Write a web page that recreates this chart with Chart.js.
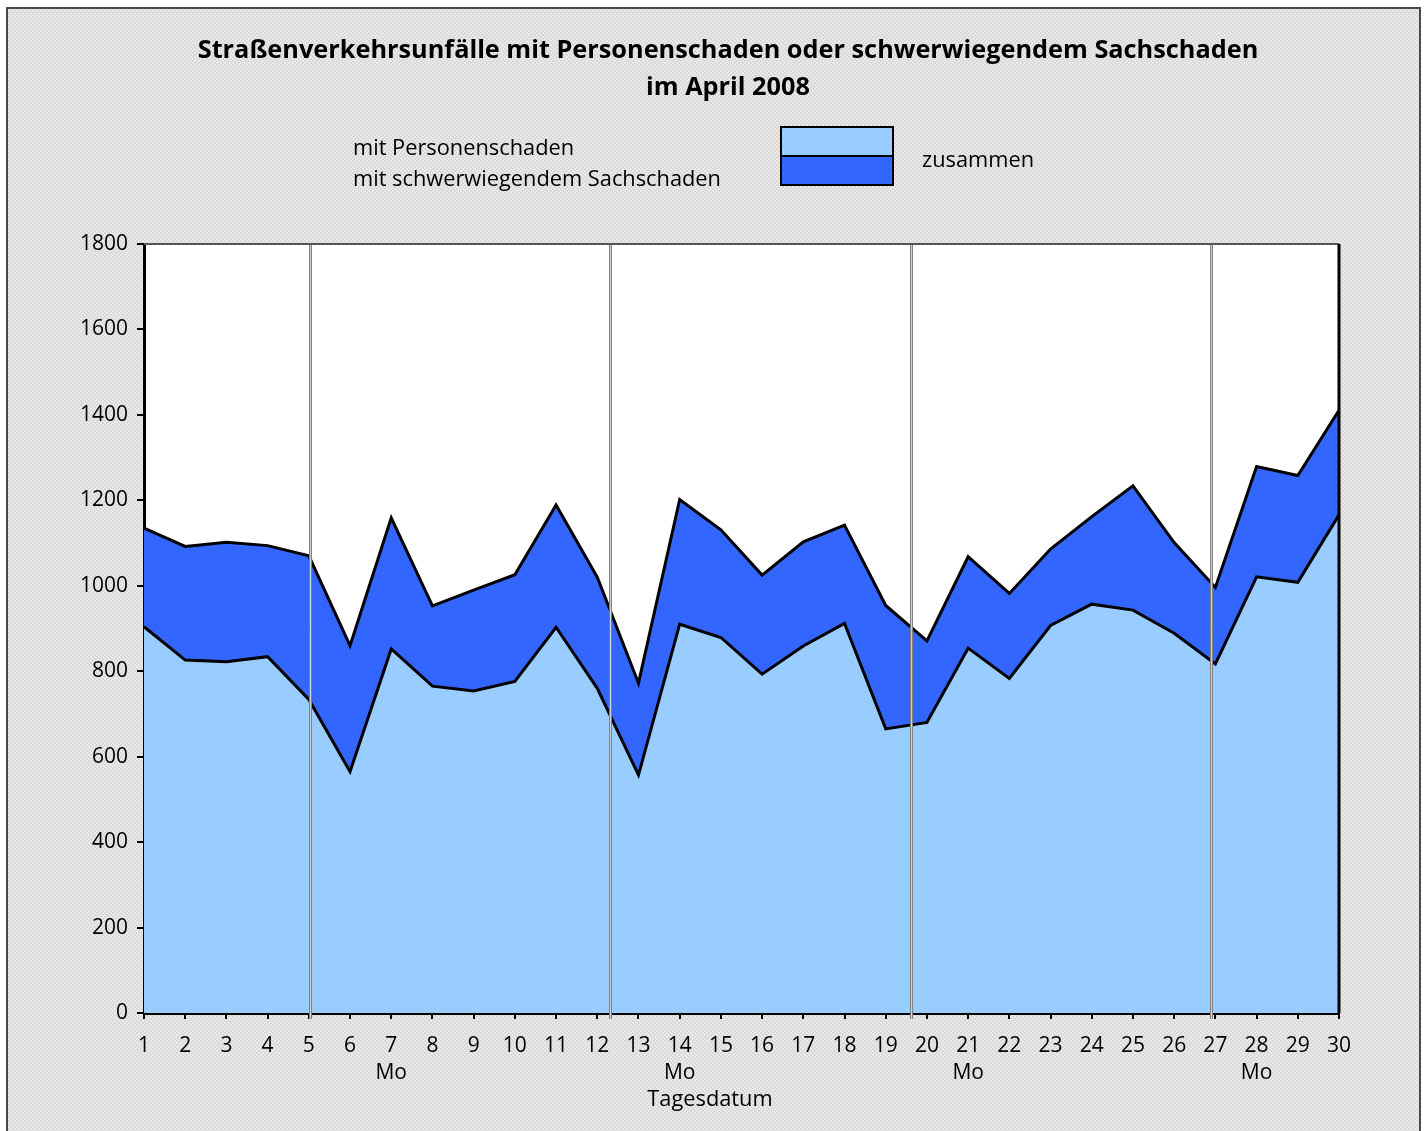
<!DOCTYPE html>
<html><head><meta charset="utf-8">
<script src="https://cdn.jsdelivr.net/npm/chart.js@4/dist/chart.umd.min.js"></script>
<style>html,body{margin:0;padding:0;background:#fff;overflow:hidden}#wrap{position:relative;width:1427px;height:1131px}</style>
</head><body><div id="wrap"><canvas id="c" width="1427" height="1131"></canvas></div>
<script>
const days = ['1','2','3','4','5','6','7','8','9','10','11','12','13','14','15','16','17','18','19','20','21','22','23','24','25','26','27','28','29','30'];
const mondays = ['7','14','21','28'];
const personenschaden = [904,826,822,834,734,565,852,765,754,776,903,760,557,910,879,793,859,912,665,680,854,783,907,957,943,889,817,1021,1008,1166];
const zusammen = [1135,1092,1102,1094,1070,860,1159,953,990,1026,1189,1020,772,1202,1131,1025,1103,1142,954,871,1068,982,1086,1162,1234,1101,996,1279,1258,1411];
const weekSeparators = [5.03, 12.31, 19.61, 26.89];
const titleLines = ['Straßenverkehrsunfälle mit Personenschaden oder schwerwiegendem Sachschaden','im April 2008'];
const legendLabels = ['mit Personenschaden','mit schwerwiegendem Sachschaden'];
const legendTotal = 'zusammen';
const xTitle = 'Tagesdatum';
const FONT = "'Open Sans', 'Noto Sans', sans-serif";
const LIGHT = '#99CCFF', DARK = '#3366FF';

function makePattern(ctx){
  const t = document.createElement('canvas'); t.width = 4; t.height = 4;
  const g = t.getContext('2d');
  g.fillStyle = '#e9e9e9'; g.fillRect(0,0,4,4);
  g.fillStyle = '#d9d9d9'; g.fillRect(0,0,2,2); g.fillRect(2,2,2,2);
  return ctx.createPattern(t,'repeat');
}

const deco = {
  id:'deco',
  beforeDraw(chart){
    const {ctx, chartArea:a} = chart;
    ctx.save();
    ctx.fillStyle = '#fff'; ctx.fillRect(0,0,chart.width,chart.height);
    ctx.fillStyle = makePattern(ctx); ctx.fillRect(8,9,1412,1130);
    ctx.strokeStyle = '#4a4a4a'; ctx.lineWidth = 2; ctx.strokeRect(7,8,1413,1140);
    ctx.fillStyle = '#fff'; ctx.fillRect(a.left,a.top,a.right-a.left,a.bottom-a.top);
    // title
    ctx.fillStyle = '#000'; ctx.textAlign = 'center'; ctx.textBaseline = 'middle';
    ctx.font = "bold 25.3px " + FONT;
    ctx.fillText(titleLines[0], 728, 51);
    ctx.fillText(titleLines[1], 728, 88);
    // legend
    ctx.font = "21.8px " + FONT; ctx.textAlign = 'left';
    ctx.fillText(legendLabels[0], 353, 149);
    ctx.fillText(legendLabels[1], 353, 180);
    ctx.fillText(legendTotal, 922, 161);
    // x axis title
    ctx.textAlign = 'center';
    ctx.fillText(xTitle, 710, 1100);
    ctx.fillStyle = LIGHT; ctx.fillRect(781,127,112,29);
    ctx.fillStyle = DARK; ctx.fillRect(781,156,112,29);
    ctx.strokeStyle = '#000'; ctx.lineWidth = 2;
    ctx.strokeRect(781,127,112,58);
    ctx.beginPath(); ctx.moveTo(781,156); ctx.lineTo(893,156); ctx.stroke();
    ctx.restore();
  },
  afterDatasetsDraw(chart){
    const {ctx, chartArea:a, scales:{x}} = chart;
    ctx.save();
    weekSeparators.forEach(d => {
      const px = Math.round(x.getPixelForValue(d - 1)) + 0.5;
      ctx.strokeStyle = '#808080'; ctx.lineWidth = 3;
      ctx.beginPath(); ctx.moveTo(px, a.top); ctx.lineTo(px, a.bottom + 6); ctx.stroke();
      ctx.strokeStyle = '#d0d0d0'; ctx.lineWidth = 1;
      ctx.beginPath(); ctx.moveTo(px, a.top); ctx.lineTo(px, a.bottom + 6); ctx.stroke();
    });
    ctx.strokeStyle = '#555'; ctx.lineWidth = 2;
    ctx.beginPath(); ctx.moveTo(a.left, a.top); ctx.lineTo(a.right, a.top); ctx.stroke();
    ctx.strokeStyle = '#000'; ctx.lineWidth = 3;
    ctx.beginPath(); ctx.moveTo(a.right, a.top); ctx.lineTo(a.right, a.bottom); ctx.stroke();
    ctx.restore();
  }
};

new Chart(document.getElementById('c'), {
  type:'line',
  data:{
    labels: days,
    datasets:[
      {label:legendLabels[0], data:personenschaden, fill:'origin', backgroundColor:LIGHT, borderColor:'#000', borderWidth:3, pointRadius:0, tension:0},
      {label:legendLabels[1], data:zusammen, fill:'-1', backgroundColor:DARK, borderColor:'#000', borderWidth:3, pointRadius:0, tension:0}
    ]
  },
  options:{
    responsive:false, devicePixelRatio:1, animation:false,
    layout:{padding:{left:0,right:88,top:244,bottom:0}},
    plugins:{legend:{display:false}, tooltip:{enabled:false}, title:{display:false}},
    elements:{line:{borderJoinStyle:'miter'}},
    scales:{
      x:{
        offset:false, z:1,
        grid:{drawOnChartArea:false, drawTicks:true, tickLength:6, color:'#000', lineWidth:2},
        border:{display:true, color:'#000', width:3},
        ticks:{color:'#000', font:{family:FONT, size:21, lineHeight:1.3}, maxRotation:0, autoSkip:false, padding:13,
          callback(v){ const l = days[v]; return mondays.includes(l) ? [l,'Mo'] : l; }},
        afterFit(s){ s.height = 118; }
      },
      y:{
        min:0, max:1800, z:1,
        grid:{drawOnChartArea:false, tickLength:7, color:'#000', lineWidth:2},
        border:{display:true, color:'#000', width:3},
        ticks:{stepSize:200, color:'#000', font:{family:FONT, size:21}, padding:9, callback(v){ return String(v); }},
        afterFit(s){ s.width = 144; }
      }
    }
  },
  plugins:[deco]
});
</script></body></html>
